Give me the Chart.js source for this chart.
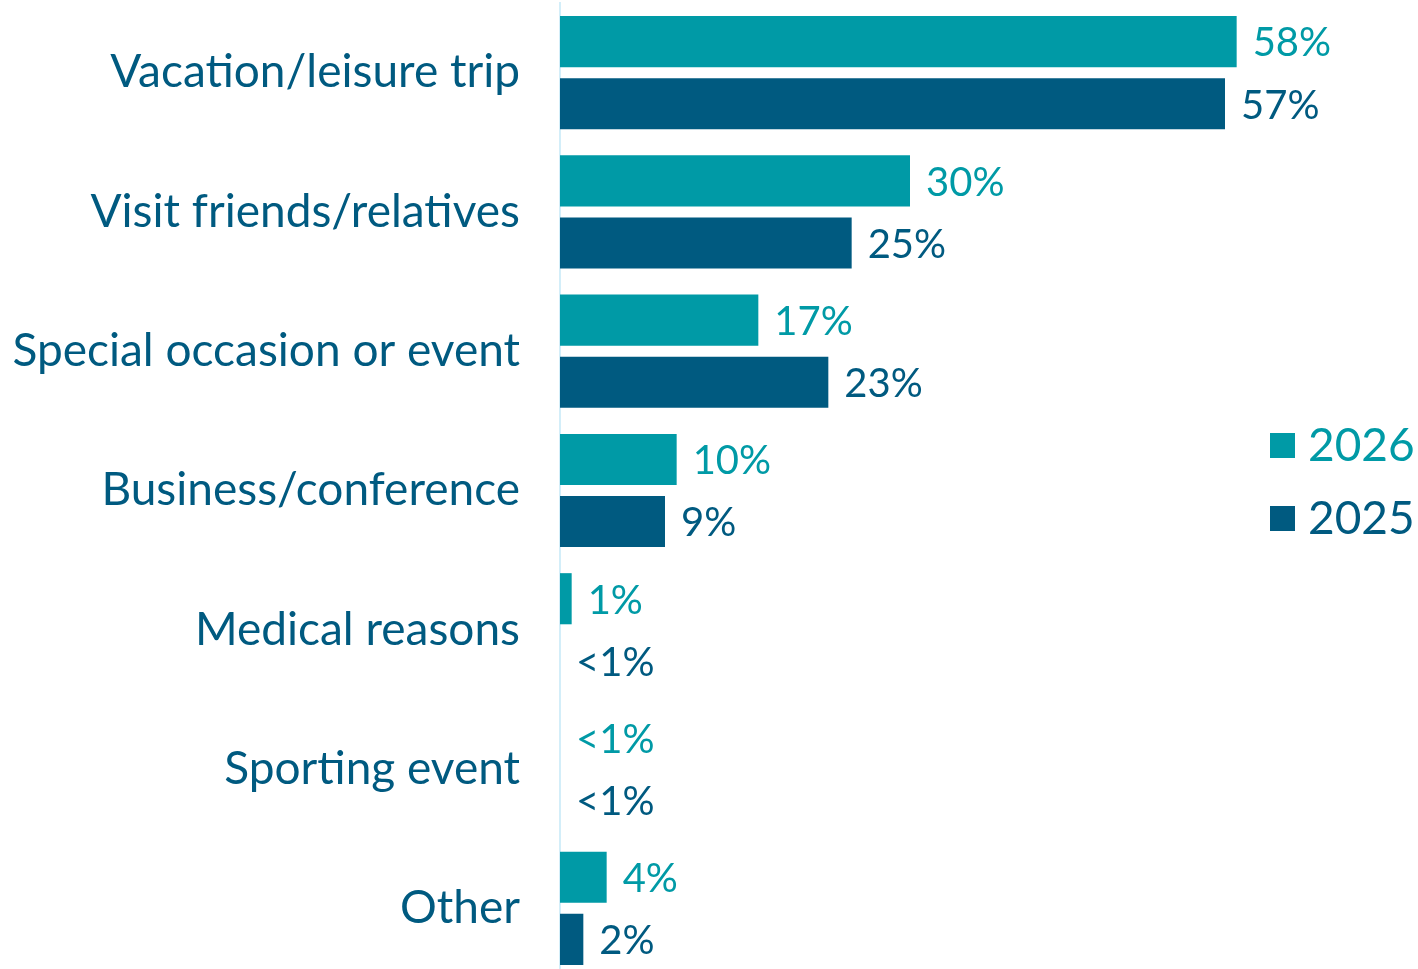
<!DOCTYPE html>
<html>
<head>
<meta charset="utf-8">
<script src="https://cdn.jsdelivr.net/npm/chart.js@4.4.1/dist/chart.umd.min.js"></script>
<style>
  html, body { margin: 0; padding: 0; background: #fff; overflow: hidden; }
  #wrap { width: 1418px; height: 978px; position: relative; }
</style>
</head>
<body>
<div id="wrap"><canvas id="barChart"></canvas></div>
<script>
// data
var categories = ['Vacation/leisure trip', 'Visit friends/relatives', 'Special occasion or event', 'Business/conference', 'Medical reasons', 'Sporting event', 'Other'];
var values2026 = [58, 30, 17, 10, 1, 0, 4];
var values2025 = [57, 25, 23, 9, 0, 0, 2];
var labels2026 = ['58%', '30%', '17%', '10%', '1%', '<1%', '4%'];
var labels2025 = ['57%', '25%', '23%', '9%', '<1%', '<1%', '2%'];
var seriesNames = ['2026', '2025'];

var teal = '#009aa6';
var navy = '#005a80';
var fontFamily = 'Lato, "Open Sans", sans-serif';

// value labels to the right of each bar
var valueLabels = {
  id: 'valueLabels',
  afterDatasetsDraw: function (chart) {
    var ctx = chart.ctx;
    var texts = [labels2026, labels2025];
    ctx.save();
    ctx.font = '40px ' + fontFamily;
    ctx.textBaseline = 'middle';
    ctx.textAlign = 'left';
    chart.data.datasets.forEach(function (ds, i) {
      var meta = chart.getDatasetMeta(i);
      ctx.fillStyle = ds.backgroundColor;
      meta.data.forEach(function (bar, j) {
        ctx.fillText(texts[i][j], bar.x + 16, bar.y + 2);
      });
    });
    ctx.restore();
  }
};

// legend on the right
var sideLegend = {
  id: 'sideLegend',
  afterDraw: function (chart) {
    var ctx = chart.ctx;
    var x = chart.chartArea.right + 10;
    var ys = [445, 518];
    ctx.save();
    ctx.font = '46px ' + fontFamily;
    ctx.textBaseline = 'middle';
    chart.data.datasets.forEach(function (ds, i) {
      ctx.fillStyle = ds.backgroundColor;
      ctx.fillRect(x, ys[i] - 12, 25, 25);
      ctx.fillText(ds.label, x + 38, ys[i] + 1);
    });
    ctx.restore();
  }
};

var barCtx = document.getElementById('barChart').getContext('2d');
var barChart = new Chart(barCtx, {
  type: 'bar',
  data: {
    labels: categories,
    datasets: [
      {
        label: seriesNames[0],
        data: values2026,
        backgroundColor: teal,
        categoryPercentage: 0.892,
        barPercentage: 0.823
      },
      {
        label: seriesNames[1],
        data: values2025,
        backgroundColor: navy,
        categoryPercentage: 0.892,
        barPercentage: 0.823
      }
    ]
  },
  options: {
    indexAxis: 'y',
    responsive: true,
    maintainAspectRatio: false,
    animation: false,
    layout: {
      padding: { top: 3, right: 158, bottom: 0, left: 0 }
    },
    plugins: {
      legend: { display: false },
      tooltip: { enabled: false }
    },
    scales: {
      x: {
        display: false,
        min: 0,
        max: 60
      },
      y: {
        afterFit: function (scale) {
          scale.width = 560;
          scale.paddingTop = 0;
          scale.paddingBottom = 0;
        },
        grid: { display: false, drawTicks: false },
        border: { display: true, color: '#d3eef9', width: 2 },
        ticks: {
          padding: 40,
          color: navy,
          font: { family: fontFamily, size: 46 }
        }
      }
    }
  },
  plugins: [valueLabels, sideLegend]
});
</script>
</body>
</html>
